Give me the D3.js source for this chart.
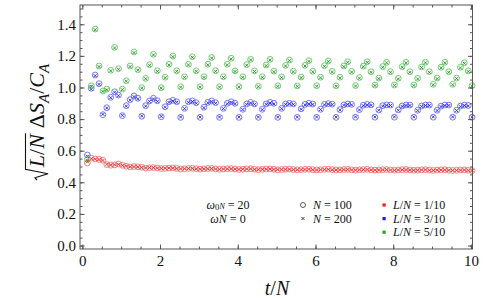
<!DOCTYPE html>
<html><head><meta charset="utf-8">
<script src="https://cdn.jsdelivr.net/npm/d3@7"></script>
<style>html,body{margin:0;padding:0;background:#fff;}svg{display:block;}
svg text{font-family:"Liberation Serif","Tinos","DejaVu Serif",serif;}</style>
</head><body>
<script>
// sample times t/N (100 samples)
const tStart = 0.13, tStep = 0.1, nSamples = 100;

// L/N = 1/10 (red)
const red100 = [0.522,0.553,0.548,0.545,0.540,0.512,0.508,0.510,0.516,0.508,
0.502,0.497,0.500,0.498,0.495,0.490,0.492,0.494,0.491,0.487,
0.488,0.490,0.491,0.488,0.484,0.486,0.488,0.489,0.486,0.483,
0.485,0.487,0.488,0.485,0.482,0.484,0.486,0.487,0.484,0.481,
0.483,0.485,0.486,0.483,0.480,0.482,0.484,0.485,0.482,0.479,
0.481,0.483,0.484,0.481,0.479,0.480,0.482,0.483,0.480,0.478,
0.480,0.482,0.483,0.480,0.478,0.479,0.481,0.482,0.479,0.477,
0.479,0.481,0.482,0.479,0.477,0.478,0.480,0.481,0.478,0.476,
0.478,0.480,0.481,0.478,0.476,0.477,0.479,0.480,0.477,0.475,
0.477,0.479,0.480,0.477,0.475,0.476,0.478,0.479,0.476,0.474];
const red200 = [0.530,0.550,0.546,0.544,0.538,0.514,0.509,0.511,0.514,0.507,
0.503,0.498,0.499,0.497,0.494,0.491,0.493,0.493,0.490,0.488,
0.489,0.490,0.490,0.487,0.485,0.486,0.487,0.488,0.485,0.483,
0.485,0.486,0.487,0.484,0.482,0.484,0.485,0.486,0.483,0.481,
0.483,0.484,0.485,0.482,0.480,0.482,0.483,0.484,0.481,0.480,
0.481,0.482,0.483,0.480,0.479,0.480,0.481,0.482,0.479,0.478,
0.480,0.481,0.482,0.479,0.478,0.479,0.480,0.481,0.478,0.477,
0.479,0.480,0.481,0.478,0.477,0.478,0.479,0.480,0.477,0.476,
0.478,0.479,0.480,0.477,0.476,0.477,0.478,0.479,0.476,0.475,
0.477,0.478,0.479,0.476,0.475,0.476,0.477,0.478,0.475,0.474];

// L/N = 3/10 (blue)
const blue100 = [0.573,0.995,1.079,1.024,0.828,0.872,0.938,0.973,0.952,0.822,
0.885,0.923,0.946,0.932,0.818,0.885,0.915,0.932,0.916,0.815,
0.878,0.910,0.919,0.910,0.811,0.868,0.910,0.915,0.904,0.811,
0.875,0.906,0.915,0.904,0.811,0.868,0.900,0.910,0.900,0.811,
0.862,0.896,0.906,0.896,0.811,0.862,0.896,0.906,0.900,0.811,
0.868,0.896,0.900,0.896,0.811,0.865,0.893,0.900,0.895,0.811,
0.862,0.893,0.898,0.895,0.811,0.860,0.890,0.896,0.893,0.812,
0.860,0.888,0.893,0.890,0.812,0.858,0.885,0.890,0.889,0.812,
0.858,0.883,0.889,0.889,0.812,0.856,0.883,0.889,0.889,0.812,
0.856,0.882,0.889,0.889,0.812,0.856,0.882,0.889,0.886,0.812];
const blue200 = [0.565,0.990,1.075,1.020,0.830,0.870,0.935,0.970,0.948,0.824,
0.882,0.920,0.942,0.928,0.820,0.882,0.912,0.928,0.912,0.817,
0.875,0.906,0.915,0.906,0.813,0.866,0.906,0.911,0.900,0.813,
0.872,0.902,0.911,0.900,0.813,0.866,0.897,0.906,0.897,0.813,
0.860,0.893,0.902,0.893,0.813,0.860,0.893,0.902,0.896,0.813,
0.866,0.893,0.897,0.893,0.813,0.862,0.890,0.896,0.892,0.813,
0.860,0.890,0.895,0.892,0.813,0.858,0.887,0.893,0.890,0.814,
0.858,0.885,0.890,0.887,0.814,0.856,0.882,0.887,0.886,0.814,
0.856,0.880,0.886,0.886,0.814,0.854,0.880,0.886,0.886,0.814,
0.854,0.879,0.886,0.886,0.814,0.854,0.879,0.886,0.883,0.814];

// L/N = 5/10 (green)
const green100 = [0.545,1.011,1.370,1.136,0.978,0.990,1.109,1.254,1.119,0.990,
1.043,1.136,1.225,1.113,0.999,1.058,1.144,1.210,1.106,0.999,
1.065,1.147,1.199,1.106,1.005,1.068,1.147,1.195,1.106,1.005,
1.068,1.147,1.190,1.106,1.005,1.068,1.147,1.185,1.105,1.006,
1.068,1.145,1.178,1.105,1.008,1.068,1.142,1.178,1.104,1.010,
1.067,1.140,1.174,1.103,1.010,1.066,1.140,1.170,1.103,1.011,
1.065,1.138,1.168,1.102,1.011,1.065,1.136,1.163,1.102,1.012,
1.063,1.135,1.163,1.100,1.015,1.060,1.132,1.160,1.100,1.016,
1.058,1.132,1.160,1.100,1.016,1.058,1.130,1.160,1.100,1.020,
1.060,1.128,1.160,1.100,1.020,1.060,1.128,1.157,1.105,1.012];
const green200 = [0.540,1.005,1.365,1.132,0.975,0.986,1.105,1.250,1.115,0.986,
1.040,1.132,1.221,1.110,0.996,1.055,1.140,1.206,1.102,0.996,
1.062,1.143,1.195,1.102,1.002,1.064,1.143,1.191,1.102,1.002,
1.064,1.143,1.186,1.102,1.002,1.064,1.143,1.181,1.101,1.003,
1.064,1.141,1.174,1.101,1.005,1.064,1.138,1.174,1.100,1.007,
1.063,1.136,1.170,1.099,1.007,1.062,1.136,1.166,1.099,1.008,
1.061,1.134,1.164,1.098,1.008,1.061,1.132,1.159,1.098,1.009,
1.059,1.131,1.159,1.096,1.012,1.056,1.128,1.156,1.096,1.013,
1.054,1.128,1.156,1.096,1.013,1.054,1.126,1.156,1.096,1.017,
1.056,1.124,1.156,1.096,1.017,1.056,1.124,1.153,1.101,1.009];

const xTicks = [0,2,4,6,8,10];
const yTicks = [0.0,0.2,0.4,0.6,0.8,1.0,1.2,1.4];

const W = 493, H = 299;
const svg = d3.select("body").append("svg").attr("width", W).attr("height", H);

const x = d3.scaleLinear().domain([-0.06, 10.04]).range([80, 472.5]);
const y = d3.scaleLinear().domain([-0.022, 1.522]).range([249, 5]);
const times = d3.range(nSamples).map(i => tStart + tStep * i);

const serif = '"Liberation Serif","Tinos","DejaVu Serif",serif';
const frameCol = "#555";

// markers
const series = [
  {v100: red100, v200: red200, circ: "#ff6868", cross: "#e03030"},
  {v100: blue100, v200: blue200, circ: "#5e5eff", cross: "#2626d0"},
  {v100: green100, v200: green200, circ: "#56c456", cross: "#249224"}
];
const plot = svg.append("g");
series.forEach(s => {
  plot.append("g").selectAll("circle").data(s.v100).join("circle")
    .attr("cx", (d, i) => x(times[i])).attr("cy", d => y(d)).attr("r", 2.9)
    .attr("fill", "none").attr("stroke", s.circ).attr("stroke-width", 0.85);
  plot.append("g").selectAll("path").data(s.v200).join("path")
    .attr("transform", (d, i) => `translate(${x(times[i])},${y(d)})`)
    .attr("d", "M-1.5,-1.5L1.5,1.5M-1.5,1.5L1.5,-1.5")
    .attr("stroke", s.cross).attr("stroke-width", 0.9).attr("fill", "none");
});

// frame
svg.append("rect").attr("x", 80).attr("y", 5).attr("width", 392.5).attr("height", 244)
  .attr("fill", "none").attr("stroke", frameCol).attr("stroke-width", 1);

function styleAxis(g) {
  g.attr("font-family", null);
  g.select(".domain").remove();
  g.selectAll("line").attr("stroke", frameCol);
}
const xMinor = d3.range(0, 10.01, 0.5);
const yMinor = d3.range(0, 1.52, 0.05);
function styleLabels(g) {
  g.selectAll("text").style("font-family", serif).attr("font-size", 15).attr("fill", "#111");
}
// bottom
svg.append("g").attr("transform", "translate(0,249)")
  .call(d3.axisBottom(x).tickValues(xMinor).tickSize(-2.5).tickFormat("")).call(styleAxis);
svg.append("g").attr("transform", "translate(0,249)")
  .call(d3.axisBottom(x).tickValues(xTicks).tickSize(-4.5).tickPadding(6).tickFormat(d3.format("d")))
  .call(styleAxis).call(styleLabels);
// top
svg.append("g").attr("transform", "translate(0,5)")
  .call(d3.axisTop(x).tickValues(xMinor).tickSize(-2.5).tickFormat("")).call(styleAxis);
svg.append("g").attr("transform", "translate(0,5)")
  .call(d3.axisTop(x).tickValues(xTicks).tickSize(-4.5).tickFormat("")).call(styleAxis);
// left
svg.append("g").attr("transform", "translate(80,0)")
  .call(d3.axisLeft(y).tickValues(yMinor).tickSize(-2.5).tickFormat("")).call(styleAxis);
svg.append("g").attr("transform", "translate(80,0)")
  .call(d3.axisLeft(y).tickValues(yTicks).tickSize(-4.5).tickPadding(4).tickFormat(d3.format(".1f")))
  .call(styleAxis).call(styleLabels);
// right
svg.append("g").attr("transform", "translate(472.5,0)")
  .call(d3.axisRight(y).tickValues(yMinor).tickSize(-2.5).tickFormat("")).call(styleAxis);
svg.append("g").attr("transform", "translate(472.5,0)")
  .call(d3.axisRight(y).tickValues(yTicks).tickSize(-4.5).tickFormat("")).call(styleAxis);

// x label
const xl = svg.append("text").attr("x", 277).attr("y", 295).attr("text-anchor", "middle")
  .style("font-family", serif).attr("font-size", 20).attr("font-style", "italic").attr("fill", "#111");
xl.append("tspan").text("t");
xl.append("tspan").attr("font-style", "normal").text("/");
xl.append("tspan").text("N");

// y label
const fs = 22;
const yg = svg.append("g").attr("fill", "#111");
const tLN = yg.append("text").style("font-family", serif).attr("font-size", fs).attr("font-style", "italic");
tLN.append("tspan").text("L");
tLN.append("tspan").attr("font-style", "normal").text("/");
tLN.append("tspan").text("N");
const wLN = tLN.node().getComputedTextLength();
const tRest = yg.append("text").style("font-family", serif).attr("font-size", fs);
tRest.append("tspan").text("Δ");
tRest.append("tspan").attr("font-style", "italic").text("S");
tRest.append("tspan").attr("font-style", "italic").attr("font-size", 15).attr("dy", 5).text("A");
tRest.append("tspan").attr("dy", -5).text("/");
tRest.append("tspan").attr("font-style", "italic").text("C");
tRest.append("tspan").attr("font-style", "italic").attr("font-size", 15).attr("dy", 5).text("A");
const wRest = tRest.node().getComputedTextLength();
const radW = 12, gap = 5;
const total = radW + wLN + 2 + gap + wRest;
const u0 = -total / 2;
yg.attr("transform", `translate(44,122) rotate(-90)`);
yg.append("path")
  .attr("d", `M${u0},-7 L${u0+2.5},-9 L${u0+6.5},4 L${u0+11},-18.5 L${u0+radW+wLN+2},-18.5`)
  .attr("fill", "none").attr("stroke", "#111").attr("stroke-width", 1.1);
tLN.attr("x", u0 + radW + 1).attr("y", 0);
tRest.attr("x", u0 + radW + wLN + 2 + gap).attr("y", 0);

// legend
const lf = 12;
function legText(xp, yp, parts, anchor) {
  const t = svg.append("text").attr("x", xp).attr("y", yp).style("font-family", serif)
    .attr("font-size", lf).attr("fill", "#111").attr("text-anchor", anchor || "start");
  parts.forEach(p => {
    const s = t.append("tspan").text(p[0]);
    if (p[1]) s.attr("font-style", "italic");
    if (p[2]) s.attr("font-size", 8.5).attr("dy", p[2]);
  });
  return t;
}
legText(228, 208.5, [["ω",1],["0",0,1.8],["N",1,-1.8],[" = 20",0]], "middle");
legText(228, 222.8, [["ω",1],["N",1],[" = 0",0]], "middle");

svg.append("circle").attr("cx", 303).attr("cy", 205).attr("r", 2.5)
  .attr("fill", "none").attr("stroke", "#333").attr("stroke-width", 0.8);
svg.append("path").attr("transform", "translate(303,218.5)")
  .attr("d", "M-1.5,-1.5L1.5,1.5M-1.5,1.5L1.5,-1.5").attr("stroke", "#333").attr("stroke-width", 0.9);
legText(313, 209, [["N",1],[" = 100",0]]);
legText(313, 222.6, [["N",1],[" = 200",0]]);

const legColors = ["#ff1a1a", "#1a1aff", "#1aaa1a"];
const legLabels = ["1/10", "3/10", "5/10"];
legLabels.forEach((lab, i) => {
  const yy = 205 + i * 13.6;
  svg.append("rect").attr("x", 382.5).attr("y", yy - 1.6).attr("width", 3.2).attr("height", 3.2)
    .attr("fill", legColors[i]);
  legText(393, yy + 4, [["L",1],["/",0],["N",1],[" = " + lab,0]]);
});
</script>
</body></html>
